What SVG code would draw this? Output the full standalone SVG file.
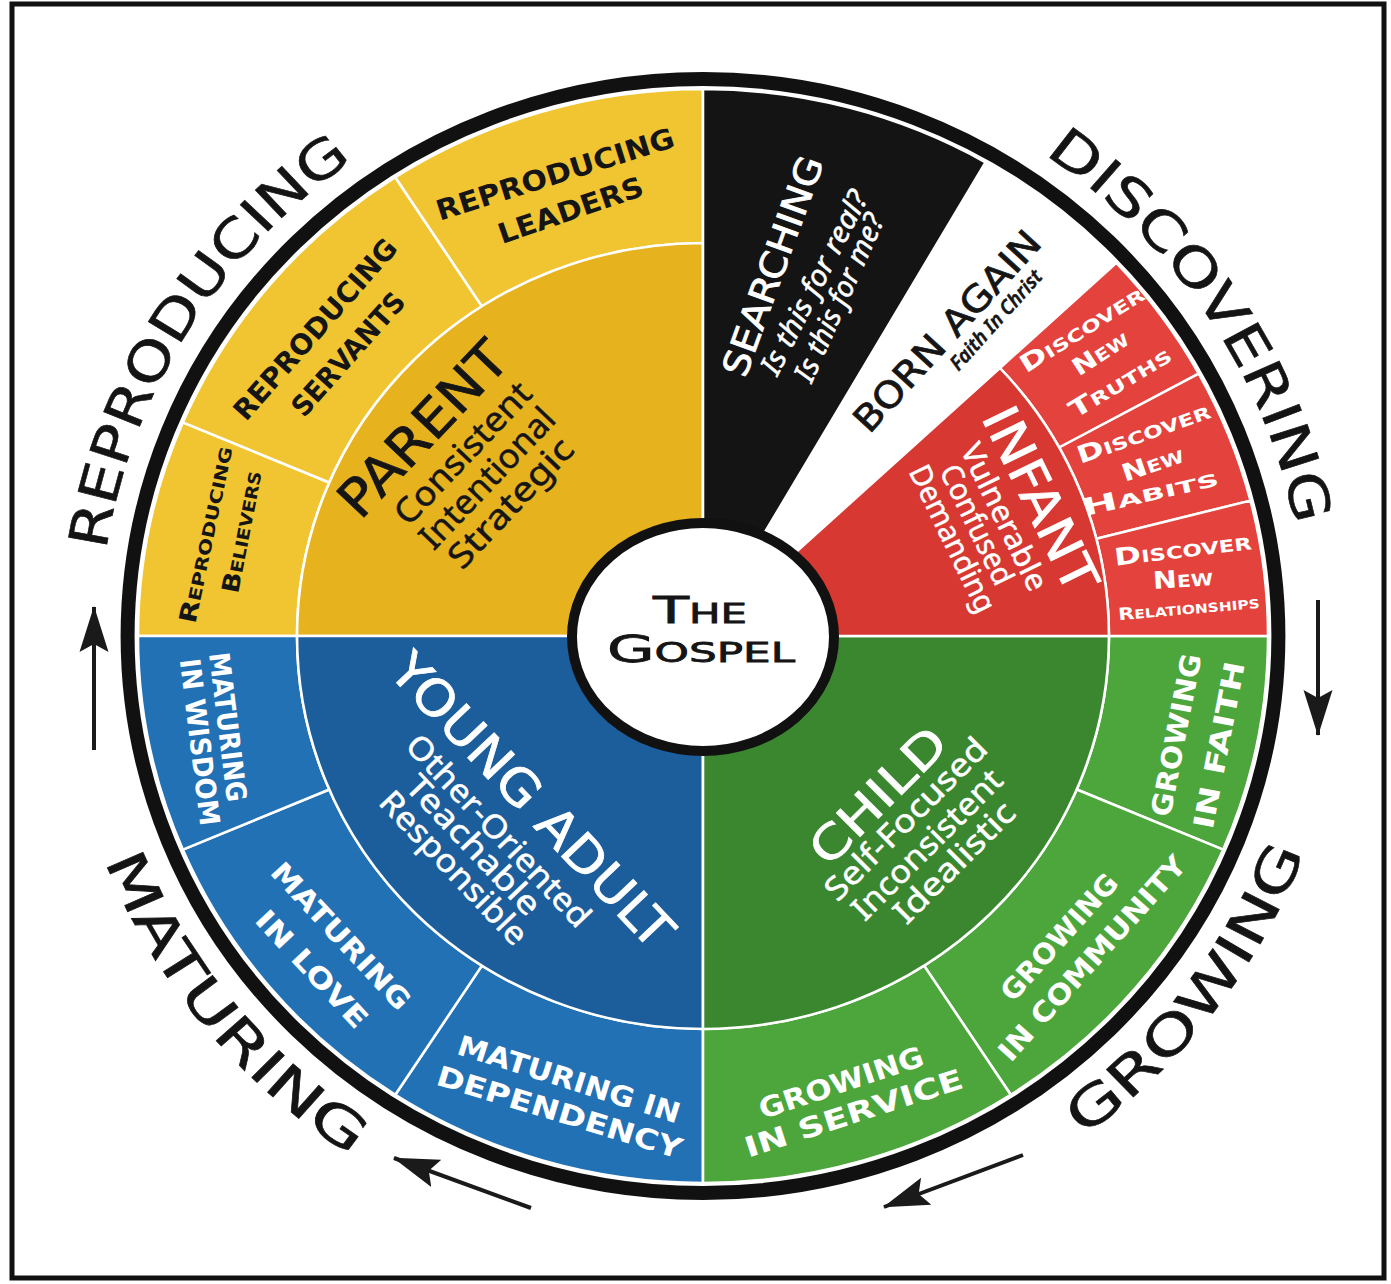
<svg xmlns="http://www.w3.org/2000/svg" width="1391" height="1284" viewBox="0 0 1391 1284">
<style>
.seg{stroke:#fff;stroke-width:2.5;stroke-linejoin:round}
.yo{fill:#F1C532}.yi{fill:#E6B31F}
.bo{fill:#2271B4}.bi{fill:#1C5D9B}
.go{fill:#4DA63C}.gi{fill:#3B8730}
.ro{fill:#E4433D}.ri{fill:#D73832}
.wide{font-family:"DejaVu Sans",sans-serif;text-anchor:middle;stroke-width:0.8}
.heavy{font-family:"DejaVu Sans",sans-serif;font-weight:bold;text-anchor:middle}
.sub{font-family:"Noto Sans","Open Sans",sans-serif;text-anchor:middle;stroke-width:0.5}
.w{fill:#fff}.k{fill:#151515}
.wide.w,.sub.w{stroke:#fff}.wide.k,.sub.k{stroke:#151515}
.outer{font-family:"DejaVu Sans",sans-serif;font-size:52px;fill:#141414;stroke:#141414;stroke-width:0.6}
.arrow{stroke:#1a1a1a;stroke-width:4;fill:none;marker-end:url(#ah)}
</style>
<defs>
<marker id="ah" markerUnits="userSpaceOnUse" viewBox="0 0 46 30" markerWidth="46" markerHeight="30" refX="45" refY="15" orient="auto">
<path d="M46,15 L0,0.5 L8,15 L0,29.5 Z" fill="#1a1a1a"/>
</marker>
<path id="pRep" d="M-578.3,-81.3 A584,584 0 0 1 -335,-478.4"/>
<path id="pDis" d="M326.6,-484.1 A584,584 0 0 1 574.2,-106.4"/>
<path id="pGro" d="M365,502.4 A621,621 0 0 0 583.6,212.4"/>
<path id="pMat" d="M-581.7,217.5 A621,621 0 0 0 -333.7,523.7"/>
</defs>
<rect width="1391" height="1284" fill="#fff"/>
<rect x="12" y="4" width="1372" height="1274" fill="none" stroke="#111" stroke-width="5"/>

<g id="reproducing-believers">
<path class="seg yo" transform="translate(703,636) scale(1.033,1)" d="M-393,0 L-547,0 A547 547 0 0 1 -503.5,-213.7 L-361.8,-153.5 A393 393 0 0 0 -393,0 Z"/>
<text class="heavy k" transform="translate(207,535) rotate(-78)" y="7" textLength="180" lengthAdjust="spacingAndGlyphs"><tspan font-size="24">R</tspan><tspan font-size="17">EPRODUCING</tspan></text>
<text class="heavy k" transform="translate(243,532) rotate(-79)" y="7" textLength="124" lengthAdjust="spacingAndGlyphs"><tspan font-size="24">B</tspan><tspan font-size="17">ELIEVERS</tspan></text>
</g>
<g id="reproducing-servants">
<path class="seg yo" transform="translate(703,636) scale(1.033,1)" d="M-361.8,-153.5 L-503.5,-213.7 A547 547 0 0 1 -297.9,-458.8 L-214,-329.6 A393 393 0 0 0 -361.8,-153.5 Z"/>
<text class="heavy k" font-size="28" transform="translate(315,329) rotate(-48.5)" y="10" textLength="231" lengthAdjust="spacingAndGlyphs">REPRODUCING</text>
<text class="heavy k" font-size="28" transform="translate(348,354) rotate(-48.3)" y="10" textLength="155" lengthAdjust="spacingAndGlyphs">SERVANTS</text>
</g>
<g id="reproducing-leaders">
<path class="seg yo" transform="translate(703,636) scale(1.033,1)" d="M-214,-329.6 L-297.9,-458.8 A547 547 0 0 1 0,-547 L0,-393 A393 393 0 0 0 -214,-329.6 Z"/>
<text class="heavy k" font-size="28" transform="translate(555,174) rotate(-17.5)" y="10" textLength="248" lengthAdjust="spacingAndGlyphs">REPRODUCING</text>
<text class="heavy k" font-size="28" transform="translate(570.5,210) rotate(-19)" y="10" textLength="152" lengthAdjust="spacingAndGlyphs">LEADERS</text>
</g>
<g id="parent">
<path class="seg yi" transform="translate(703,636) scale(1.033,1)" d="M0,0 L-393,0 A393 393 0 0 1 0,-393 Z"/>
<g transform="translate(422.3,428.5) rotate(-46.5)">
<text class="wide k" font-size="52" y="19" textLength="220" lengthAdjust="spacingAndGlyphs">PARENT</text>
<text class="sub k" font-size="34" x="10" y="58" textLength="182" lengthAdjust="spacingAndGlyphs">Consistent</text>
<text class="sub k" font-size="34" x="8.6" y="93" textLength="180" lengthAdjust="spacingAndGlyphs">Intentional</text>
<text class="sub k" font-size="34" x="6.7" y="127" textLength="165" lengthAdjust="spacingAndGlyphs">Strategic</text>
</g>
</g>

<g id="maturing-in-dependency">
<path class="seg bo" transform="translate(703,636) scale(1.033,1)" d="M0,393 L0,547 A547 547 0 0 1 -297.9,458.8 L-214,329.6 A393 393 0 0 0 0,393 Z"/>
<text class="heavy w" font-size="28" transform="translate(569,1079) rotate(17.5)" y="10" textLength="232" lengthAdjust="spacingAndGlyphs">MATURING IN</text>
<text class="heavy w" font-size="28" transform="translate(559.5,1112) rotate(17)" y="10" textLength="255" lengthAdjust="spacingAndGlyphs">DEPENDENCY</text>
</g>
<g id="maturing-in-love">
<path class="seg bo" transform="translate(703,636) scale(1.033,1)" d="M-214,329.6 L-297.9,458.8 A547 547 0 0 1 -503.5,213.7 L-361.8,153.5 A393 393 0 0 0 -214,329.6 Z"/>
<text class="heavy w" font-size="28" transform="translate(341,936) rotate(47)" y="10" textLength="190" lengthAdjust="spacingAndGlyphs">MATURING</text>
<text class="heavy w" font-size="28" transform="translate(312,969) rotate(47)" y="10" textLength="150" lengthAdjust="spacingAndGlyphs">IN LOVE</text>
</g>
<g id="maturing-in-wisdom">
<path class="seg bo" transform="translate(703,636) scale(1.033,1)" d="M-361.8,153.5 L-503.5,213.7 A547 547 0 0 1 -547,0 L-393,0 A393 393 0 0 0 -361.8,153.5 Z"/>
<text class="heavy w" font-size="28" transform="translate(228,727) rotate(83)" y="10" textLength="150" lengthAdjust="spacingAndGlyphs">MATURING</text>
<text class="heavy w" font-size="28" transform="translate(200,742) rotate(83)" y="10" textLength="168" lengthAdjust="spacingAndGlyphs">IN WISDOM</text>
</g>
<g id="young-adult">
<path class="seg bi" transform="translate(703,636) scale(1.033,1)" d="M0,0 L0,393 A393 393 0 0 1 -393,0 Z"/>
<g transform="translate(532.5,800) rotate(46.5)">
<text class="wide w" font-size="50" y="18" textLength="385" lengthAdjust="spacingAndGlyphs">YOUNG ADULT</text>
<text class="sub w" font-size="32" x="-1" y="57" textLength="252" lengthAdjust="spacingAndGlyphs">Other-Oriented</text>
<text class="sub w" font-size="32" x="-8" y="85" textLength="180" lengthAdjust="spacingAndGlyphs">Teachable</text>
<text class="sub w" font-size="32" x="-5" y="115" textLength="199" lengthAdjust="spacingAndGlyphs">Responsible</text>
</g>
</g>

<g id="growing-in-faith">
<path class="seg go" transform="translate(703,636) scale(1.033,1)" d="M393,0 L547,0 A547 547 0 0 1 503.5,213.7 L361.8,153.5 A393 393 0 0 0 393,0 Z"/>
<text class="heavy w" font-size="28" transform="translate(1176,735) rotate(-79)" y="10" textLength="165" lengthAdjust="spacingAndGlyphs">GROWING</text>
<text class="heavy w" font-size="28" transform="translate(1219,745) rotate(-79)" y="10" textLength="170" lengthAdjust="spacingAndGlyphs">IN FAITH</text>
</g>
<g id="growing-in-community">
<path class="seg go" transform="translate(703,636) scale(1.033,1)" d="M361.8,153.5 L503.5,213.7 A547 547 0 0 1 297.9,458.8 L214,329.6 A393 393 0 0 0 361.8,153.5 Z"/>
<text class="heavy w" font-size="28" transform="translate(1059,937) rotate(-48)" y="10" textLength="160" lengthAdjust="spacingAndGlyphs">GROWING</text>
<text class="heavy w" font-size="28" transform="translate(1092,958) rotate(-48)" y="10" textLength="265" lengthAdjust="spacingAndGlyphs">IN COMMUNITY</text>
</g>
<g id="growing-in-service">
<path class="seg go" transform="translate(703,636) scale(1.033,1)" d="M214,329.6 L297.9,458.8 A547 547 0 0 1 0,547 L0,393 A393 393 0 0 0 214,329.6 Z"/>
<text class="heavy w" font-size="28" transform="translate(841,1082.5) rotate(-18.5)" y="10" textLength="172" lengthAdjust="spacingAndGlyphs">GROWING</text>
<text class="heavy w" font-size="28" transform="translate(853.5,1113) rotate(-18)" y="10" textLength="228" lengthAdjust="spacingAndGlyphs">IN SERVICE</text>
</g>
<g id="child">
<path class="seg gi" transform="translate(703,636) scale(1.033,1)" d="M0,0 L393,0 A393 393 0 0 1 0,393 Z"/>
<g transform="translate(877.5,795) rotate(-45)">
<text class="wide w" font-size="46" y="17" textLength="173" lengthAdjust="spacingAndGlyphs">CHILD</text>
<text class="sub w" font-size="32" x="3" y="48" textLength="215" lengthAdjust="spacingAndGlyphs">Self-Focused</text>
<text class="sub w" font-size="32" x="0" y="81" textLength="198" lengthAdjust="spacingAndGlyphs">Inconsistent</text>
<text class="sub w" font-size="32" x="6.5" y="113" textLength="157" lengthAdjust="spacingAndGlyphs">Idealistic</text>
</g>
</g>

<g id="discover-new-truths">
<path class="seg ro" transform="translate(703,636) scale(1.033,1)" d="M287.4,-268 L400.1,-373.1 A547 547 0 0 1 479.9,-262.4 L344.8,-188.5 A393 393 0 0 0 287.4,-268 Z"/>
<text class="heavy w" transform="translate(1082.5,330) rotate(-32)" y="7" textLength="142" lengthAdjust="spacingAndGlyphs"><tspan font-size="24">D</tspan><tspan font-size="17">ISCOVER</tspan></text>
<text class="heavy w" transform="translate(1101,354) rotate(-33)" y="7" textLength="62" lengthAdjust="spacingAndGlyphs"><tspan font-size="24">N</tspan><tspan font-size="17">EW</tspan></text>
<text class="heavy w" transform="translate(1120.7,383.3) rotate(-31)" y="7" textLength="115" lengthAdjust="spacingAndGlyphs"><tspan font-size="24">T</tspan><tspan font-size="17">RUTHS</tspan></text>
</g>
<g id="discover-new-habits">
<path class="seg ro" transform="translate(703,636) scale(1.033,1)" d="M344.8,-188.5 L479.9,-262.4 A547 547 0 0 1 530,-135.4 L380.8,-97.3 A393 393 0 0 0 344.8,-188.5 Z"/>
<text class="heavy w" transform="translate(1144,434) rotate(-19.5)" y="7" textLength="140" lengthAdjust="spacingAndGlyphs"><tspan font-size="24">D</tspan><tspan font-size="17">ISCOVER</tspan></text>
<text class="heavy w" transform="translate(1153,465) rotate(-19)" y="7" textLength="64" lengthAdjust="spacingAndGlyphs"><tspan font-size="24">N</tspan><tspan font-size="17">EW</tspan></text>
<text class="heavy w" transform="translate(1150,494) rotate(-13)" y="7" textLength="140" lengthAdjust="spacingAndGlyphs"><tspan font-size="24">H</tspan><tspan font-size="17">ABITS</tspan></text>
</g>
<g id="discover-new-relationships">
<path class="seg ro" transform="translate(703,636) scale(1.033,1)" d="M380.8,-97.3 L530,-135.4 A547 547 0 0 1 547,0 L393,0 A393 393 0 0 0 380.8,-97.3 Z"/>
<text class="heavy w" transform="translate(1183,550.5) rotate(-7)" y="7" textLength="138" lengthAdjust="spacingAndGlyphs"><tspan font-size="24">D</tspan><tspan font-size="17">ISCOVER</tspan></text>
<text class="heavy w" transform="translate(1183,580) rotate(-4)" y="7" textLength="60" lengthAdjust="spacingAndGlyphs"><tspan font-size="24">N</tspan><tspan font-size="17">EW</tspan></text>
<text class="heavy w" transform="translate(1189,609) rotate(-5)" y="5" textLength="142" lengthAdjust="spacingAndGlyphs"><tspan font-size="17">R</tspan><tspan font-size="12.5">ELATIONSHIPS</tspan></text>
</g>
<g id="infant">
<path class="seg ri" transform="translate(703,636) scale(1.033,1)" d="M0,0 L287.4,-268 A393 393 0 0 1 393,0 Z"/>
<g transform="translate(1040.8,499) rotate(64)">
<text class="wide w" font-size="50" y="18" textLength="200" lengthAdjust="spacingAndGlyphs">INFANT</text>
<text class="sub w" font-size="30" x="0" y="51" textLength="160" lengthAdjust="spacingAndGlyphs">Vulnerable</text>
<text class="sub w" font-size="30" x="-5" y="79" textLength="130" lengthAdjust="spacingAndGlyphs">Confused</text>
<text class="sub w" font-size="30" x="-3" y="107" textLength="160" lengthAdjust="spacingAndGlyphs">Demanding</text>
</g>
</g>

<g id="searching">
<path class="seg" fill="#141414" transform="translate(703,636) scale(1.033,1)" d="M0,0 L0,-547 A547 547 0 0 1 273.5,-473.7 Z"/>
<text class="wide w" font-size="36" transform="translate(772.5,266) rotate(-70)" y="13" textLength="231" lengthAdjust="spacingAndGlyphs">SEARCHING</text>
<text class="sub w" font-style="italic" font-size="29" transform="translate(815,283) rotate(-63)" y="9" textLength="202" lengthAdjust="spacingAndGlyphs">Is this for real?</text>
<text class="sub w" font-style="italic" font-size="29" transform="translate(840,298) rotate(-66)" y="9" textLength="180" lengthAdjust="spacingAndGlyphs">Is this for me?</text>
</g>
<g id="born-again">
<path fill="#fff" transform="translate(703,636) scale(1.033,1)" d="M0,0 L273.5,-473.7 A547 547 0 0 1 400.1,-373.1 Z"/>
<text class="wide k" font-size="36" transform="translate(946.7,330.8) rotate(-47.5)" y="13" textLength="258" lengthAdjust="spacingAndGlyphs">BORN AGAIN</text>
<text class="sub k" font-style="italic" font-weight="600" font-size="20" transform="translate(995.8,320) rotate(-48)" y="7" textLength="127" lengthAdjust="spacingAndGlyphs">Faith In Christ</text>
</g>

<ellipse id="rim" cx="703" cy="636" rx="575.4" ry="557" fill="none" stroke="#111" stroke-width="14"/>

<g id="the-gospel">
<ellipse cx="703" cy="637" rx="131" ry="114" fill="#fff" stroke="#111" stroke-width="10"/>
<text class="wide k" stroke-width="1.2" x="700" y="623" textLength="94" lengthAdjust="spacingAndGlyphs"><tspan font-size="38">T</tspan><tspan font-size="27">HE</tspan></text>
<text class="wide k" stroke-width="1.2" x="701" y="662" textLength="188" lengthAdjust="spacingAndGlyphs"><tspan font-size="38">G</tspan><tspan font-size="27">OSPEL</tspan></text>
</g>

<g id="phase-labels" transform="translate(703,636) scale(1.033,1)">
<text class="outer"><textPath href="#pRep" startOffset="50%" text-anchor="middle" textLength="470" lengthAdjust="spacingAndGlyphs">REPRODUCING</textPath></text>
<text class="outer"><textPath href="#pDis" startOffset="50%" text-anchor="middle" textLength="455" lengthAdjust="spacingAndGlyphs">DISCOVERING</textPath></text>
<text class="outer"><textPath href="#pGro" startOffset="50%" text-anchor="middle" textLength="360" lengthAdjust="spacingAndGlyphs">GROWING</textPath></text>
<text class="outer"><textPath href="#pMat" startOffset="50%" text-anchor="middle" textLength="385" lengthAdjust="spacingAndGlyphs">MATURING</textPath></text>
</g>

<g id="connectors">
<line class="arrow" x1="1318" y1="600" x2="1318" y2="735"/>
<line class="arrow" x1="1023" y1="1155" x2="884" y2="1207"/>
<line class="arrow" x1="531" y1="1208" x2="394" y2="1158"/>
<line class="arrow" x1="94" y1="750" x2="94" y2="607"/>
</g>
</svg>
